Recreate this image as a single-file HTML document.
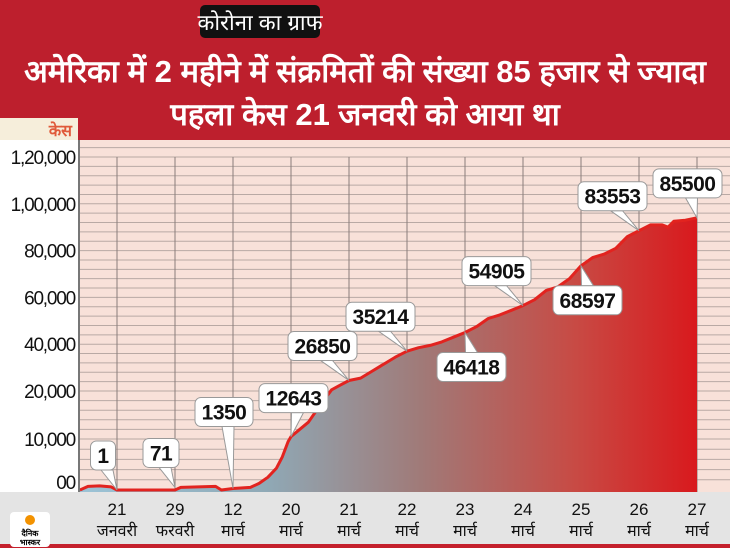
<!DOCTYPE html>
<html><head><meta charset="utf-8"><style>
body{margin:0;width:730px;height:548px;overflow:hidden;background:#fff}
svg{display:block}
text{font-family:"Liberation Sans","Noto Sans CJK SC",sans-serif}
</style></head><body>
<svg id="c" width="730" height="548" viewBox="0 0 730 548">
<defs>
<linearGradient id="fg" x1="80" y1="0" x2="700" y2="0" gradientUnits="userSpaceOnUse">
<stop offset="0" stop-color="#9cc3d6"/><stop offset="0.3" stop-color="#8fa9b6"/><stop offset="0.55" stop-color="#a07a78"/><stop offset="0.8" stop-color="#c84a44"/><stop offset="1" stop-color="#d9181c"/>
</linearGradient>
</defs>
<rect x="0" y="0" width="730" height="140" fill="#bd1f2d"/>
<rect x="200" y="5" width="120" height="33" rx="5" fill="#111"/>
<text x="260" y="30" text-anchor="middle" fill="#fff" font-size="22">कोरोना का ग्राफ</text>
<text x="365" y="82" text-anchor="middle" fill="#fff" font-size="31" font-weight="bold">अमेरिका में 2 महीने में संक्रमितों की संख्या 85 हजार से ज्यादा</text>
<text x="365" y="125" text-anchor="middle" fill="#fff" font-size="31" font-weight="bold">पहला केस 21 जनवरी को आया था</text>
<rect x="0" y="118" width="78" height="22" fill="#f6eedb"/>
<text x="72" y="136" text-anchor="end" fill="#e05a3a" font-size="16" font-weight="bold">केस</text>
<rect x="80" y="140" width="650" height="352" fill="#f8e1d9"/>
<g id="grid"></g>
<path id="area" fill="url(#fg)"/>
<path id="line" fill="none" stroke="#e2231f" stroke-width="3" stroke-linejoin="round"/>
<line x1="79" y1="140" x2="79" y2="492" stroke="#777" stroke-width="2"/>
<rect x="0" y="492" width="730" height="52" fill="#e4e4e4"/>
<rect x="0" y="544" width="730" height="4" fill="#c4202c"/>
<g id="ylab"></g>
<g id="xlab"></g>
<g id="callouts"></g>
<rect x="10" y="512" width="40" height="35" rx="4" fill="#fff"/>
<circle cx="30" cy="520" r="5" fill="#f39200"/>
<text x="30" y="536" text-anchor="middle" font-size="8" font-weight="bold">दैनिक</text>
<text x="30" y="545" text-anchor="middle" font-size="8" font-weight="bold">भास्कर</text>
</svg>
<script>
const xDays=["21","29","12","20","21","22","23","24","25","26","27"];
const xMonths=["जनवरी","फरवरी","मार्च","मार्च","मार्च","मार्च","मार्च","मार्च","मार्च","मार्च","मार्च"];
const yTicks=[0,10000,20000,40000,60000,80000,100000,120000];
const yTickLabels=["00","10,000","20,000","40,000","60,000","80,000","1,00,000","1,20,000"];
const ptX=[-0.64,-0.5,-0.3,-0.1,0,1.0,1.1,1.7,1.8,2.0,2.3,2.45,2.6,2.75,2.85,2.95,3.0,3.1,3.3,3.5,3.7,3.85,4.0,4.2,4.4,4.6,4.8,5.0,5.2,5.4,5.6,5.8,6.0,6.2,6.4,6.6,6.8,7.0,7.2,7.4,7.6,7.8,8.0,8.2,8.4,8.6,8.8,9.0,9.2,9.4,9.5,9.6,9.8,10.0];
const ptY=[0,700,800,600,0,0,500,700,0,300,500,1300,2500,4300,6500,9500,10500,11500,13500,17000,20500,22500,24500,25500,28500,31500,34500,37000,38500,39500,41000,43000,45000,47500,51000,52500,54500,56500,59000,63000,64500,68000,73500,77000,78500,81000,86000,88500,91000,91000,90000,92500,93000,94000];
const calloutLabels=["1","71","1350","12643","26850","35214","46418","54905","68597","83553","85500"];
const calloutX=[0,1,2,3,4,5,6,7,8,9,10];
const calloutV=[0,500,300,10500,24500,37000,45000,56500,73500,88500,94000];
const calloutBelow=[false,false,false,false,false,false,true,false,true,false,false];

const NS="http://www.w3.org/2000/svg";
function xs(i){return 117+i*58;}
const dom=[0,10000,20000,120000],rng=[490,439,391,157];
function ys(v){for(let k=0;k<dom.length-1;k++){if(v<=dom[k+1]||k==dom.length-2){return rng[k]+(v-dom[k])/(dom[k+1]-dom[k])*(rng[k+1]-rng[k]);}}}
function mk(t,a,p){const e=document.createElementNS(NS,t);for(const k in a)e.setAttribute(k,a[k]);p.appendChild(e);return e;}
const grid=document.getElementById('grid');
for(let v=4000;v<=124000;v+=4000){if(v<20000)continue;const y=ys(v);const l=mk('line',{x1:80,x2:730,y1:y,y2:y,stroke:'#b9a9a4','stroke-width':1},grid);

}
for(let v=2000;v<20000;v+=2000){const y=ys(v);const l=mk('line',{x1:80,x2:730,y1:y,y2:y,stroke:'#b9a9a4','stroke-width':1},grid);

}
for(let i=0;i<xDays.length;i++){const l=mk('line',{x1:xs(i),x2:xs(i),y1:157,y2:492,stroke:'#8a7d7a','stroke-width':1},grid);

}
let d='';for(let i=0;i<ptX.length;i++){d+=(i?'L':'M')+xs(ptX[i]).toFixed(1)+','+ys(ptY[i]).toFixed(1);}
document.getElementById('line').setAttribute('d',d);
document.getElementById('area').setAttribute('d',d+'L'+xs(ptX[ptX.length-1])+',492L'+xs(ptX[0])+',492Z');
const yl=document.getElementById('ylab');
for(let i=0;i<yTicks.length;i++){let yy=ys(yTicks[i])+7;if(yy>489)yy=489;const t=mk('text',{x:75,y:yy,'text-anchor':'end','font-size':19,fill:'#111','letter-spacing':'-1.2'},yl);t.textContent=yTickLabels[i];

}
const xl=document.getElementById('xlab');
for(let i=0;i<xDays.length;i++){const a=mk('text',{x:xs(i),y:515,'text-anchor':'middle','font-size':17,fill:'#111'},xl);a.textContent=xDays[i];


const b=mk('text',{x:xs(i),y:536,'text-anchor':'middle','font-size':16,fill:'#111'},xl);b.textContent=xMonths[i];

}
const cg=document.getElementById('callouts');
for(let i=0;i<calloutLabels.length;i++){const px=xs(calloutX[i]),py=ys(calloutV[i]);const w=calloutLabels[i].length*11+14,h=29;
let bx=px-w+8,by=py-h-20;if(calloutLabels[i].length<=2){bx=px-w/2-14;}
if(i==2){bx=px-38;by=py-h-62;}if(i==3){bx=px-32;by=py-h-24;}if(i==10){bx=px-44;}
if(calloutBelow[i]){bx=px-28;by=py+20;}
const g=mk('g',{},cg);


const tipX=bx+w/2+(calloutBelow[i]?0:4);const tipY=calloutBelow[i]?by:by+h;
mk('path',{d:`M${tipX-6},${tipY} L${px},${py} L${tipX+6},${tipY}Z`,fill:'#fff',stroke:'#999','stroke-width':1},g);
mk('rect',{x:bx,y:by,width:w,height:h,rx:6,fill:'#fff',stroke:'#999','stroke-width':1},g);
const t=mk('text',{x:bx+w/2,y:by+22,'text-anchor':'middle','font-size':21,'font-weight':'bold',fill:'#111','letter-spacing':'-0.5'},g);t.textContent=calloutLabels[i];}
</script>
</body></html>
